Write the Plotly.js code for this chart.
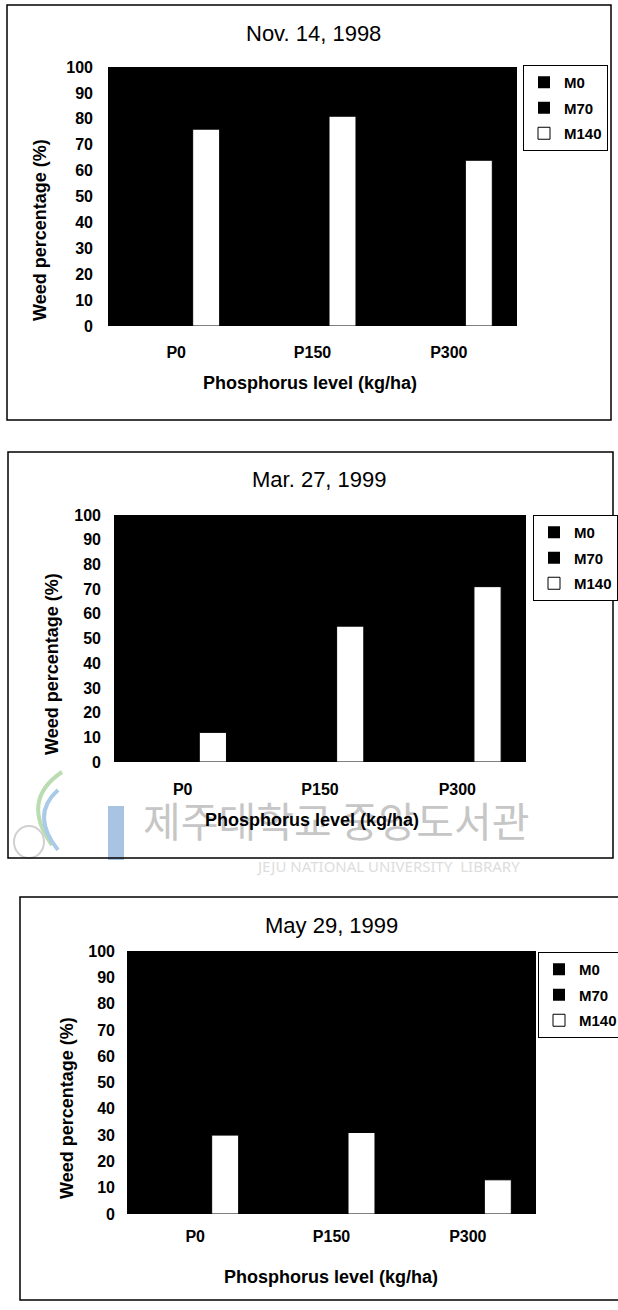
<!DOCTYPE html>
<html><head><meta charset="utf-8">
<script src="https://cdn.plot.ly/plotly-3.0.1.min.js"></script>
<style>html,body{margin:0;padding:0;background:#fff}#chart{width:618px;height:1310px}</style>
</head><body><div id="chart"></div>
<script>
// ---------- data ----------
const categories = ['P0', 'P150', 'P300'];
const seriesNames = ['M0', 'M70', 'M140'];
const panelTitles = ['Nov. 14, 1998', 'Mar. 27, 1999', 'May 29, 1999'];
// M0 and M70 bars are drawn black on the black plot area in the reference: their heights cannot be read
const m0Nov98 = [null, null, null];
const m70Nov98 = [null, null, null];
const m140Nov98 = [76, 81, 64];
const m0Mar99 = [null, null, null];
const m70Mar99 = [null, null, null];
const m140Mar99 = [12, 55, 71];
const m0May99 = [null, null, null];
const m70May99 = [null, null, null];
const m140May99 = [30, 31, 13];
const yTickVals = [0, 10, 20, 30, 40, 50, 60, 70, 80, 90, 100];
const xAxisTitle = 'Phosphorus level (kg/ha)';
const yAxisTitle = 'Weed percentage (%)';
const watermarkKo = '제주대학교 중앙도서관';
const watermarkEn = 'JEJU NATIONAL UNIVERSITY  LIBRARY';

// ---------- layout helpers ----------
const W = 618, H = 1310;
const px = x => x / W, py = y => 1 - y / H;
const FONT = 'Liberation Sans, Arial, sans-serif';

const panelData = [
  [m0Nov98, m70Nov98, m140Nov98],
  [m0Mar99, m70Mar99, m140Mar99],
  [m0May99, m70May99, m140May99]
];
const geom = [
  {plot: [108, 67, 517, 326], title: [313, 33], xt: [310, 383], yt: [40, 230], leg: [523, 65], box: [7, 5, 611, 420], ystand: 14, xstand: 15},
  {plot: [114, 515, 526, 762], title: [319, 480], xt: [312, 820], yt: [52, 664], leg: [533, 515], box: [8, 452, 613, 858], ystand: 12, xstand: 16},
  {plot: [127, 951, 536, 1214], title: [331, 925], xt: [331, 1277], yt: [67, 1108], leg: [538, 952], box: [20, 897, 640, 1300], ystand: 11, xstand: 11}
];
const barColors = ['#000000', '#000000', '#ffffff'];

const traces = [];
const layout = {
  width: W, height: H,
  margin: {l: 0, r: 0, t: 0, b: 0, autoexpand: false},
  paper_bgcolor: '#ffffff', plot_bgcolor: '#000000',
  barmode: 'group', bargap: 0.34, bargroupgap: 0.1,
  showlegend: true,
  font: {family: FONT, color: '#000'},
  annotations: [], shapes: []
};

// faint library watermark (behind the text)
layout.annotations.push({xref: 'paper', yref: 'paper', x: px(336), y: py(819), text: watermarkKo, showarrow: false,
  font: {family: 'Noto Sans CJK KR', size: 41, color: '#c6c6c6'}, xanchor: 'center', yanchor: 'middle'});
layout.annotations.push({xref: 'paper', yref: 'paper', x: px(388), y: py(866), text: watermarkEn, showarrow: false,
  font: {family: 'Noto Sans', size: 15, color: '#dddddd'}, xanchor: 'center', yanchor: 'middle'});
layout.shapes.push({type: 'rect', xref: 'paper', yref: 'paper', x0: px(108), x1: px(124), y0: py(860), y1: py(806),
  fillcolor: '#a9c3e3', line: {width: 0}, layer: 'below'});
function pathOf(pts){ return pts.map((p, i) => (i === 0 ? 'M' : (i === 1 ? 'Q' : '')) + px(p[0]) + ',' + py(p[1])).join(' '); }
layout.shapes.push({type: 'path', xref: 'paper', yref: 'paper', path: pathOf([[62, 772], [20, 800], [52, 845]]), line: {color: '#b9dcb0', width: 4}, layer: 'below'});
layout.shapes.push({type: 'path', xref: 'paper', yref: 'paper', path: pathOf([[58, 790], [30, 815], [58, 850]]), line: {color: '#a9cbe8', width: 4}, layer: 'below'});
layout.shapes.push({type: 'circle', xref: 'paper', yref: 'paper', x0: px(14), x1: px(44), y0: py(858), y1: py(826), line: {color: '#d0d0d0', width: 2}, layer: 'below'});

geom.forEach((g, i) => {
  const n = i === 0 ? '' : String(i + 1);
  const xa = 'xaxis' + n, ya = 'yaxis' + n, lg = 'legend' + n;
  seriesNames.forEach((s, k) => {
    traces.push({
      type: 'bar', name: s, x: categories, y: panelData[i][k],
      xaxis: 'x' + n, yaxis: 'y' + n, legend: lg, legendgroup: 'p' + i + s,
      marker: {color: barColors[k], line: {color: '#000', width: k === 2 ? 1 : 0}},
      hoverinfo: 'x+y+name'
    });
  });
  layout[xa] = {domain: [px(g.plot[0]), px(g.plot[2])], anchor: 'y' + n, showgrid: false, zeroline: false, showline: false,
    ticks: '', ticklabelstandoff: g.xstand, tickfont: {family: FONT, size: 16, color: '#000', weight: 'bold'}, fixedrange: true};
  layout[ya] = {domain: [py(g.plot[3]), py(g.plot[1])], anchor: 'x' + n, range: [0, 100], tickvals: yTickVals,
    showgrid: false, zeroline: false, showline: false, ticks: '', ticklabelstandoff: g.ystand,
    tickfont: {family: FONT, size: 16, color: '#000', weight: 'bold'}, fixedrange: true};
  layout[lg] = {x: px(g.leg[0]), y: py(g.leg[1]), xanchor: 'left', yanchor: 'top', bgcolor: '#fff', bordercolor: '#000', borderwidth: 1,
    font: {family: FONT, size: 15, color: '#000', weight: 'bold'}, traceorder: 'grouped', tracegroupgap: 3, itemclick: false, itemdoubleclick: false};
  layout.annotations.push({xref: 'paper', yref: 'paper', x: px(g.title[0]), y: py(g.title[1]), text: panelTitles[i], showarrow: false,
    xanchor: 'center', yanchor: 'middle', font: {family: FONT, size: 22, color: '#000'}});
  layout.annotations.push({xref: 'paper', yref: 'paper', x: px(g.xt[0]), y: py(g.xt[1]), text: xAxisTitle, showarrow: false,
    xanchor: 'center', yanchor: 'middle', font: {family: FONT, size: 18, color: '#000', weight: 'bold'}});
  layout.annotations.push({xref: 'paper', yref: 'paper', x: px(g.yt[0]), y: py(g.yt[1]), text: yAxisTitle, showarrow: false, textangle: -90,
    xanchor: 'center', yanchor: 'middle', font: {family: FONT, size: 18, color: '#000', weight: 'bold'}});
  layout.shapes.push({type: 'rect', xref: 'paper', yref: 'paper', x0: px(g.box[0]), x1: px(g.box[2]), y0: py(g.box[3]), y1: py(g.box[1]),
    line: {color: '#000', width: 1.5}, fillcolor: 'rgba(0,0,0,0)', layer: 'above'});
});

Plotly.newPlot('chart', traces, layout, {displayModeBar: false, staticPlot: false});
</script>
</body></html>
